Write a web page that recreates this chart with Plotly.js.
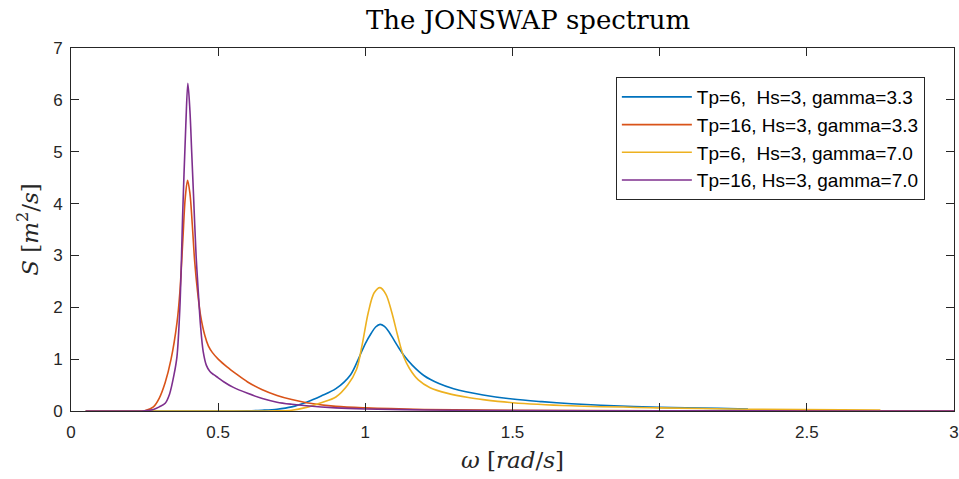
<!DOCTYPE html>
<html>
<head>
<meta charset="utf-8">
<script src="https://cdn.plot.ly/plotly-3.0.1.min.js"></script>
<style>html,body{margin:0;padding:0;background:#fff;}#chart{width:959px;height:479px;}</style>
</head>
<body>
<div id="chart"></div>
<script>
// Series names
const names = [
  "Tp=6,&nbsp; Hs=3, gamma=3.3",
  "Tp=16, Hs=3, gamma=3.3",
  "Tp=6,&nbsp; Hs=3, gamma=7.0",
  "Tp=16, Hs=3, gamma=7.0"
];

// Tp=6, gamma=3.3 (blue)
const xBlue = [0.05,0.5,0.6,0.65,0.7,0.75,0.8,0.85,0.9,0.95,0.98,1.0,1.02,1.035,1.05,1.065,1.08,1.095,1.11,1.13,1.16,1.2,1.25,1.3,1.4,1.5,1.6,1.7,1.8,2.0,2.2,2.3];
const yBlue = [0,0,0.003,0.015,0.035,0.08,0.17,0.29,0.43,0.7,1.05,1.3,1.5,1.62,1.67,1.63,1.53,1.39,1.25,1.08,0.88,0.68,0.53,0.43,0.31,0.23,0.18,0.14,0.11,0.07,0.05,0.04];

// Tp=16, gamma=3.3 (orange)
const xOrange = [0.05,0.2,0.25,0.28,0.30,0.32,0.34,0.36,0.37,0.38,0.388,0.396,0.404,0.412,0.42,0.43,0.44,0.455,0.467,0.48,0.5,0.53,0.56,0.6,0.65,0.7,0.75,0.8,0.9,1.0,1.2,1.5,2.0,2.5,3.0];
const yOrange = [0,0,0.005,0.08,0.25,0.55,1.0,1.7,2.3,3.3,4.1,4.45,4.2,3.6,2.9,2.3,1.85,1.45,1.25,1.13,1.0,0.85,0.72,0.56,0.41,0.3,0.22,0.16,0.09,0.06,0.03,0.012,0.004,0.002,0.001];

// Tp=6, gamma=7.0 (yellow)
const xYellow = [0.05,0.6,0.7,0.75,0.8,0.85,0.9,0.94,0.97,0.99,1.01,1.03,1.05,1.07,1.09,1.11,1.13,1.15,1.18,1.22,1.28,1.35,1.4,1.5,1.7,2.0,2.3,2.75];
const yYellow = [0,0,0.005,0.015,0.07,0.16,0.27,0.5,0.8,1.3,1.9,2.28,2.38,2.25,1.9,1.45,1.05,0.82,0.6,0.45,0.34,0.26,0.22,0.16,0.1,0.06,0.035,0.02];

// Tp=16, gamma=7.0 (purple)
const xPurple = [0.05,0.2,0.25,0.28,0.30,0.32,0.335,0.35,0.36,0.37,0.38,0.39,0.397,0.404,0.41,0.416,0.425,0.433,0.44,0.449,0.46,0.472,0.485,0.5,0.52,0.55,0.6,0.65,0.7,0.75,0.8,0.9,1.0,1.2,1.5,2.0,2.5,3.0];
const yPurple = [0,0,0.003,0.03,0.08,0.15,0.33,0.7,1.05,2.0,3.9,5.5,6.32,5.8,5.0,4.2,3.0,2.25,1.65,1.15,0.88,0.76,0.7,0.64,0.56,0.46,0.34,0.24,0.17,0.13,0.1,0.06,0.04,0.02,0.008,0.003,0.001,0.0005];

const colors = ["#0072BD","#D95319","#EDB120","#7E2F8E"];
const xs = [xBlue, xOrange, xYellow, xPurple];
const ys = [yBlue, yOrange, yYellow, yPurple];

const xTicks = [0,0.5,1,1.5,2,2.5,3];
const yTicks = [0,1,2,3,4,5,6,7];

const traces = xs.map((x,i)=>({
  x: x, y: ys[i], type: 'scatter', mode: 'lines', name: names[i],
  line: {color: colors[i], width: 1.6, shape: 'spline', smoothing: 0.9}
}));

const axisCommon = {
  showgrid: false, zeroline: false, showline: true, mirror: 'ticks',
  linecolor: '#262626', linewidth: 1, ticks: 'inside', ticklen: 8, tickcolor: '#262626',
  tickfont: {family: 'Liberation Sans, Arial, sans-serif', size: 17, color: '#262626'}
};

const layout = {
  width: 959, height: 479,
  margin: {l: 71, r: 5, t: 48, b: 68},
  paper_bgcolor: '#fff', plot_bgcolor: '#fff',
  showlegend: true,
  title: {text: 'The JONSWAP spectrum', x: 0.5506, xanchor: 'center', y: 0.958, yanchor: 'middle',
          font: {family: 'DejaVu Serif, Liberation Serif, serif', size: 26, color: '#000'}},
  xaxis: Object.assign({}, axisCommon, {
    range: [0,3], tickvals: xTicks, ticktext: xTicks.map(String), ticklabelstandoff: 6,
    title: {text: '<i>ω</i> [<i>rad</i>/<i>s</i>]', standoff: 10,
            font: {family: 'DejaVu Serif, Liberation Serif, serif', size: 23, color: '#262626'}}
  }),
  yaxis: Object.assign({}, axisCommon, {
    range: [0,7], tickvals: yTicks, ticktext: yTicks.map(String), ticklabelstandoff: 4,
    title: {text: '<i>S</i> [<i>m</i><sup>2</sup>/<i>s</i>]', standoff: 8,
            font: {family: 'DejaVu Serif, Liberation Serif, serif', size: 23, color: '#262626'}}
  }),
  legend: {
    x: 0.967, xanchor: 'right', y: 0.92, yanchor: 'top',
    bgcolor: '#fff', bordercolor: '#262626', borderwidth: 1,
    font: {family: 'Liberation Sans, Arial, sans-serif', size: 19, color: '#000'},
    itemwidth: 70, tracegroupgap: 0
  }
};

Plotly.newPlot('chart', traces, layout, {displayModeBar: false, staticPlot: true});
</script>
</body>
</html>
